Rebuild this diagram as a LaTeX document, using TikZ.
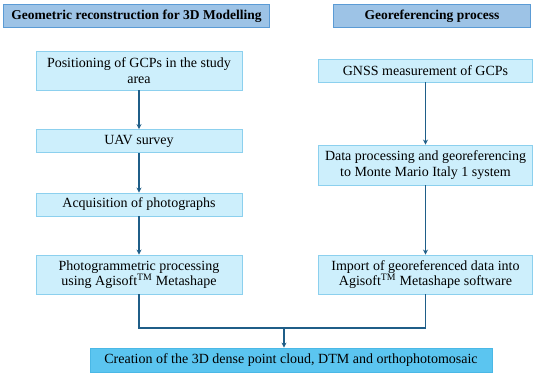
\documentclass[tikz,border=0pt]{standalone}
\usepackage{fontspec}
\setmainfont{Liberation Serif}
\usepackage{tikz}
\usetikzlibrary{calc,arrows.meta,positioning}
\definecolor{wf-line}{HTML}{1F5E88}
\definecolor{wf-box}{HTML}{CDEFFC}
\definecolor{wf-boxedge}{HTML}{8CD0EE}
\definecolor{wf-head}{HTML}{9DC3E6}
\definecolor{wf-headedge}{HTML}{5B9BD5}
\definecolor{wf-out}{HTML}{5BC5F0}
\definecolor{wf-outedge}{HTML}{4AB8E6}

\begin{document}
\begin{tikzpicture}[x=1pt, y=-1pt, font=\fontsize{14}{15.5}\selectfont, >={Stealth[length=5pt,width=5pt]}]
    \tikzset{
        headbox/.style={draw=wf-headedge, fill=wf-head, line width=1.4pt, minimum height=23pt, inner sep=2pt, font=\fontsize{13.5}{15}\selectfont\bfseries},
        stepbox/.style={draw=wf-boxedge, fill=wf-box, line width=0.9pt, align=center, inner sep=2pt},
        outbox/.style={draw=wf-outedge, fill=wf-out, line width=0.8pt, minimum height=24pt, minimum width=402pt},
        flow/.style={draw=wf-line, line width=1.6pt}
    }
    \useasboundingbox (0,0) rectangle (550,378);
    % headers
    \node[headbox, minimum width=266pt] (geo) at (136.5,16) {Geometric reconstruction for 3D Modelling};
    \node[headbox, minimum width=197pt] (georef) at (432,16) {Georeferencing process};
    % left column
    \node[stepbox, minimum width=206pt, minimum height=39pt] (gcp) at (139,70.5) {Positioning of GCPs in the study\\area};
    \node[stepbox, minimum width=206pt, minimum height=23pt] (uav) at (139,141) {UAV survey};
    \node[stepbox, minimum width=206pt, minimum height=23pt] (acq) at (139,204.5) {Acquisition of photographs};
    \node[stepbox, minimum width=206pt, minimum height=39pt] (photo) at (139,274.5) {Photogrammetric processing\\using Agisoft\textsuperscript{TM} Metashape};
    % right column
    \node[stepbox, minimum width=214pt, minimum height=23pt] (gnss) at (425.5,70.5) {GNSS measurement of GCPs};
    \node[stepbox, minimum width=214pt, minimum height=40pt] (data) at (425.5,165) {Data processing and georeferencing\\to Monte Mario Italy 1 system};
    \node[stepbox, minimum width=214pt, minimum height=39pt] (import) at (425.5,274.5) {Import of georeferenced data into\\Agisoft\textsuperscript{TM} Metashape software};
    % result
    \node[outbox] (cloud) at (291,360) {Creation of the 3D dense point cloud, DTM and orthophotomosaic};
    \draw[flow, ->] (gcp) -- (uav);
    \draw[flow, ->] (uav) -- (acq);
    \draw[flow, ->] (acq) -- (photo);
    \draw[flow, ->] (gnss) -- (data);
    \draw[flow, ->] (data) -- (import);
    \coordinate (join) at (284,328);
    \draw[flow] (photo.south) |- (join) -| (import.south);
    \draw[flow, ->] (join) -- (join |- cloud.north);
\end{tikzpicture}
\end{document}
